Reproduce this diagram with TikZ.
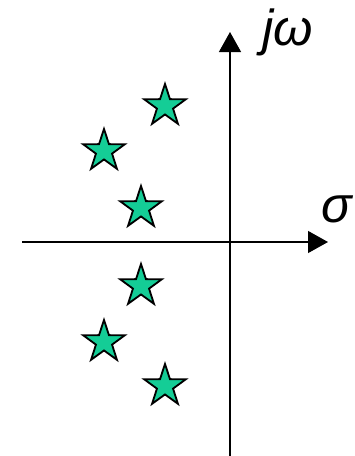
\documentclass[tikz,border=0pt]{standalone}
\usepackage{fontspec}
\setmainfont{Liberation Sans}
\usepackage{xcolor}
\definecolor{PoleGreen}{RGB}{20,205,150}
\usetikzlibrary{arrows.meta, shapes.geometric}

\begin{document}
\begin{tikzpicture}[x=0.025cm, y=-0.025cm,
  pole/.style={star, star points=5, star point ratio=2.6, minimum size=44*0.025cm,
               inner sep=0pt, draw=black, line width=1.3pt, fill=PoleGreen},
  axis/.style={line width=0.9pt, -{Triangle[length=20*0.025cm, width=22*0.025cm]}},
  lbl/.style={font=\fontsize{36}{36}\selectfont\itshape, inner sep=0pt}
]
  \useasboundingbox (0,0) rectangle (355,456);
  % axes
  \coordinate (xl) at (22,242);
  \coordinate (xr) at (328,242);
  \coordinate (yb) at (230,456);
  \coordinate (yt) at (230,32);
  \draw[axis] (xl) -- (xr);
  \draw[axis] (yb) -- (yt);
  \node[lbl, anchor=base west] (jw) at (262,45) {jω};
  \node[lbl, anchor=base west] (sig) at (321,222) {σ};
  % poles
  \node[pole] (p1) at (165,106) {};
  \node[pole] (p2) at (104,151) {};
  \node[pole] (p3) at (141,208) {};
  \node[pole] (p4) at (141,286) {};
  \node[pole] (p5) at (104,342) {};
  \node[pole] (p6) at (165,386) {};
\end{tikzpicture}
\end{document}
